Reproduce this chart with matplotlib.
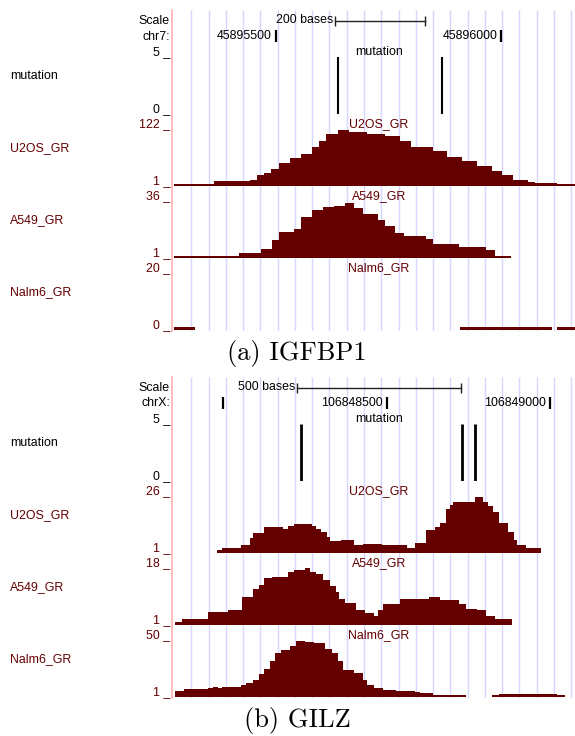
import numpy as np
import matplotlib.pyplot as plt

plt.rcParams['font.family'] = ['Liberation Sans', 'DejaVu Sans']
plt.rcParams['font.size'] = 8.9

W, H = 575, 736
FRAME_L, DATA_L, DATA_R = 172, 174, 575
GUIDE_STEP = 17.27          # pixels between the blue guide lines
TRACK_TOPS = [57, 129, 201, 273]
TRACK_H = 57
RED = '#640000'

# ---- (a) IGFBP1, chr7 ----
A_START, A_END = 45895274, 45896163
A_TICKS = [45895500, 45896000]
A_TICK_LABELS = ['45895500', '45896000']
A_SCALE = [45895631, 45895831]
A_MUT = [45895637, 45895869]

# bar graph tracks: bin edges (bases from window start) and values
A_U2OS_EDGES = [0, 89, 168, 184, 200, 216, 233, 257, 281, 306, 322, 338, 363, 387, 428,
                468, 501, 525, 574, 606, 639, 671, 704, 728, 752, 785, 801, 850, 889]
A_U2OS_VALUES = [1, 8, 11, 20, 25, 34, 48, 58, 68, 82, 96, 110, 120, 116, 110,
                 106, 96, 82, 74, 61, 51, 41, 29, 20, 10, 6.5, 3, 1]
A_A549_EDGES = [0, 143, 192, 217, 233, 265, 281, 306, 330, 355, 379, 399, 420, 452, 468,
                489, 509, 558, 574, 631, 692, 712, 748]
A_A549_VALUES = [1, 3, 5.7, 11.5, 16.4, 18.4, 26, 30, 32, 33, 35, 31.5, 28, 24, 20,
                 15.5, 14, 12, 8.6, 6.7, 4.7, 1]
A_NALM6_EDGES = [0, 46, 633, 838, 850, 889]
A_NALM6_VALUES = [1, np.nan, 1, np.nan, 1]

# ---- (b) GILZ, chrX ----
B_START, B_END = 106847849, 106849076
B_TICKS = [106848000, 106848500, 106849000]
B_TICK_LABELS = ['', '106848500', '106849000']
B_SCALE = [106848226, 106848726]
B_MUT = [106848237, 106848730, 106848770]

B_U2OS_EDGES = [131, 148, 204, 232, 243, 276, 333, 349, 366, 422, 433, 450, 467, 478, 512,
                551, 579, 635, 714, 736, 770, 798, 815, 831, 843, 854, 921, 944, 960, 977,
                994, 1022, 1039, 1050, 1078, 1123]
B_U2OS_VALUES = [1.5, 2.5, 3.9, 7, 9, 12, 11, 12.3, 13.5, 12.3, 10.9, 9.5, 7.4, 5.6,
                 5.9, 3.9, 4.1, 3.6, 2.4, 4.6, 10.6, 11.7, 13.8, 20, 22, 23.3, 25.7, 23.3,
                 21.5, 18.7, 13.8, 9.5, 6, 3.9, 2.5]
B_A549_EDGES = [2, 24, 103, 164, 209, 243, 260, 276, 299, 349, 366, 400, 417, 433, 456,
                478, 495, 506, 523, 557, 585, 613, 624, 641, 691, 781, 815, 871, 893, 927,
                955, 983, 1033]
B_A549_VALUES = [1.2, 2.4, 4.3, 5.1, 9.2, 11.5, 12.9, 14.8, 15.3, 16.7, 17.4, 18, 16.7,
                 16, 14.3, 12.5, 10.6, 8.5, 7.3, 5.1, 4.0, 3.1, 5, 6.9, 8.3, 9.2, 8.1, 6.9,
                 5.4, 5.0, 3.1, 2.2]
B_NALM6_EDGES = [2, 30, 103, 120, 136, 148, 204, 220, 243, 260, 276, 293, 310, 327, 355,
                 372, 400, 428, 462, 484, 501, 518, 551, 579, 590, 613, 641, 680, 736, 753,
                 792, 893, 972, 994, 1173, 1196, 1227]
B_NALM6_VALUES = [4.7, 6.1, 7.5, 8, 7, 8, 9.8, 11.8, 14.6, 19.4, 24.5, 31.6, 38.7, 40.9,
                  44.3, 49.4, 48.6, 47.2, 42, 38.7, 31.6, 23.1, 20.3, 14.6, 9.8, 7.5, 5.2,
                  4.7, 3.3, 2.4, 1.3, np.nan, 1, 1.8, 1, np.nan]

fig = plt.figure(figsize=(W / 100, H / 100), dpi=100)


def rect(x0, y_top, w, h):
    return [x0 / W, 1 - (y_top + h) / H, w / W, h / H]


def ftext(x, y, s, **kw):
    fig.text(x / W, 1 - y / H, s, **kw)


def draw_panel(y0, caption, chrom, start, end, ticks, tick_labels, scale, mut, mut_lw, tracks):
    bpp = (end - start) / (DATA_R - DATA_L)

    # frame: pink left edge and blue guide lines
    frame = fig.add_axes(rect(FRAME_L, y0 + 10, DATA_R - FRAME_L, 321))
    frame.set_xlim(start - (DATA_L - FRAME_L) * bpp, end)
    frame.set_ylim(y0 + 331, y0 + 10)
    for s in ['top', 'right', 'bottom']:
        frame.spines[s].set_visible(False)
    frame.spines['left'].set_color('#ffb0b0')
    frame.spines['left'].set_linewidth(1.2)
    frame.set_xticks([])
    frame.set_yticks([])
    guides = start + np.arange(1, 24) * GUIDE_STEP * bpp
    frame.vlines(guides, y0 + 10, y0 + 331, color='#d6d6ff', lw=1.0, zorder=0)

    # ruler
    frame.plot(scale, [y0 + 21] * 2, color='#222222', lw=1.0)
    frame.vlines(scale, y0 + 16, y0 + 26, color='#222222', lw=1.0)
    frame.annotate(f'{scale[1] - scale[0]} bases', (scale[0], y0 + 20.5), xytext=(-1.5, 0),
                   textcoords='offset points', ha='right', va='center')
    frame.vlines(ticks, y0 + 30, y0 + 42, color='black', lw=1.6)
    for t, lab in zip(ticks, tick_labels):
        frame.annotate(lab, (t, y0 + 36.5), xytext=(-3, 0), textcoords='offset points',
                       ha='right', va='center')
    ftext(170, y0 + 20.5, 'Scale', ha='right', va='center')
    ftext(170, y0 + 36.5, chrom, ha='right', va='center')

    # mutation track
    top = TRACK_TOPS[0]
    ax = fig.add_axes(rect(DATA_L, y0 + top, DATA_R - DATA_L, TRACK_H))
    ax.axis('off')
    ax.set_xlim(start, end)
    ax.set_ylim(0, 5)
    ax.vlines(mut, 0, 5, color='black', lw=mut_lw)
    ftext(170, y0 + top - 1.5, '5 _', ha='right', va='baseline')
    ftext(170, y0 + top + TRACK_H - 1.5, '0 _', ha='right', va='baseline')
    ftext(10, y0 + top + 19, 'mutation', ha='left', va='center')
    ftext(379, y0 + top - 5, 'mutation', ha='center', va='center')

    # signal tracks
    for top, (name, edges, values, lo, hi) in zip(TRACK_TOPS[1:], tracks):
        ax = fig.add_axes(rect(DATA_L, y0 + top, DATA_R - DATA_L, TRACK_H))
        ax.axis('off')
        pad = 0 if lo == 0 else (hi - lo) * 2 / TRACK_H
        ax.set_xlim(start, end)
        ax.set_ylim(lo - pad, hi)
        ax.stairs(values, start + np.array(edges), baseline=lo - pad, fill=True,
                  color=RED, lw=0)
        ftext(170, y0 + top - 1.5, f'{hi} _', ha='right', va='baseline', color=RED)
        ftext(170, y0 + top + TRACK_H - 1.5, f'{lo} _', ha='right', va='baseline', color=RED)
        ftext(10, y0 + top + 19, name, ha='left', va='center', color=RED)
        ftext(379, y0 + top - 5, name, ha='center', va='center', color=RED)

    ftext(297, y0 + 353, caption, ha='center', va='center', fontfamily='cmr10', fontsize=19)


draw_panel(0, '(a) IGFBP1', 'chr7:', A_START, A_END, A_TICKS, A_TICK_LABELS, A_SCALE,
           A_MUT, 1.5,
           [('U2OS_GR', A_U2OS_EDGES, A_U2OS_VALUES, 1, 122),
            ('A549_GR', A_A549_EDGES, A_A549_VALUES, 1, 36),
            ('Nalm6_GR', A_NALM6_EDGES, A_NALM6_VALUES, 0, 20)])
draw_panel(367, '(b) GILZ', 'chrX:', B_START, B_END, B_TICKS, B_TICK_LABELS, B_SCALE,
           B_MUT, 2.0,
           [('U2OS_GR', B_U2OS_EDGES, B_U2OS_VALUES, 1, 26),
            ('A549_GR', B_A549_EDGES, B_A549_VALUES, 1, 18),
            ('Nalm6_GR', B_NALM6_EDGES, B_NALM6_VALUES, 1, 50)])

fig.savefig('out.png', dpi=100)
